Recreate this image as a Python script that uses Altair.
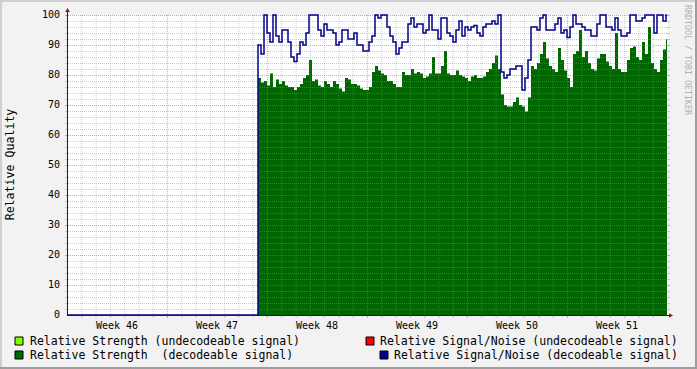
import altair as alt
import pandas as pd

# ---------------- data ----------------
FIRST_DAY = 13.37      # first sample, days after start of Week 46
STEP_DAYS = 0.21       # sample spacing in days

strength = [
    79, 77.5, 78, 76.5, 80.5, 76, 78.5, 77, 78, 76.5,
    76, 76, 75, 76, 77, 79, 80, 85, 78, 78.5,
    76.5, 76, 78, 77, 76, 78, 77, 75.5, 74.5, 79,
    78.5, 77, 77, 76.5, 75.5, 75, 75, 76, 81, 83,
    81.5, 80.5, 80, 78, 78, 77, 76, 76, 81, 80,
    80, 82, 80.5, 81, 80.5, 79, 79.5, 80.5, 86, 80.5,
    80.5, 83, 88, 80.5, 80, 80, 81.5, 80, 79.5, 79,
    78, 79.5, 80, 79, 79, 79.5, 81, 82, 84, 86.5,
    82, 73.5, 70, 69.5, 69.5, 71, 72.5, 70, 69.5, 67.8,
    72.5, 83, 82, 84, 87, 91, 85.5, 83, 82, 81,
    89, 85, 81.5, 79, 76, 87, 88, 95, 86, 88,
    84, 82, 81.5, 85.5, 87, 87, 84.5, 83, 82, 94,
    82, 81, 81, 85, 89, 89.5, 86, 85, 91, 87,
    96, 84, 82, 81, 85, 88.5, 92,
]

snr = [
    90, 87, 100, 94, 91, 100, 93, 91, 95, 95,
    91, 86, 84.5, 87, 91, 90, 94, 100, 100, 100,
    95, 93, 97, 95, 95, 94, 90, 91, 95, 95,
    92, 92, 94, 90, 90, 88, 88, 91, 93, 100,
    99, 100, 100, 96, 93, 91, 87, 89, 91, 91,
    97, 99, 96, 97, 97, 94, 95, 100, 95, 95,
    92, 99, 99, 94, 93, 91, 95, 98, 93, 96,
    95, 96, 96.5, 94, 93, 96, 97, 97, 98, 97,
    100, 81, 79, 80, 82, 82, 83, 83, 75, 79,
    85, 96, 96, 95, 99, 100, 95, 95, 95, 97,
    99, 94, 95, 92.5, 96, 100, 97, 97, 96, 95,
    95, 93, 93, 97, 100, 100, 96, 96, 95, 99,
    95, 93, 93, 94, 100, 100, 98, 98, 99, 100,
    100, 100, 94, 100, 100, 98, 100,
]

week_names = ["Week 46", "Week 47", "Week 48", "Week 49", "Week 50", "Week 51"]
y_ticks = list(range(0, 101, 10))
y_title = "Relative Quality"
legend_labels = [
    "Relative Strength (undecodeable signal)",
    "Relative Strength \u00a0(decodeable signal)",
    "Relative Signal/Noise (undecodeable signal)",
    "Relative Signal/Noise (decodeable signal)",
]
legend_colors = ["#80ff00", "#006600", "#ff0000", "#000090"]
watermark = "RRDTOOL / TOBI OETIKER"

TOTAL_DAYS = 7 * len(week_names)

n = len(strength)
days = [0.0] + [round(FIRST_DAY + i * STEP_DAYS, 4) for i in range(n)] + [float(TOTAL_DAYS)]
df = pd.DataFrame({
    "day": days,
    "strength": [0] + strength + [strength[-1]],
    "snr": [0] + snr + [snr[-1]],
})

minor_days = pd.DataFrame({"d": [d for d in range(1, TOTAL_DAYS) if d % 7]})
major_days = pd.DataFrame({"d": [d for d in range(7, TOTAL_DAYS, 7)]})
minor_vals = pd.DataFrame({"v": [v for v in range(2, 100, 2) if v % 10]})
major_vals = pd.DataFrame({"v": list(range(10, 101, 10))})
week_df = pd.DataFrame({"w": week_names, "c": [7 * i + 3.5 for i in range(len(week_names))]})
ytick_df = pd.DataFrame({"v": y_ticks})

FONT = "DejaVu Sans Mono"
W, H = 600, 300

xs = alt.Scale(domain=[0, TOTAL_DAYS], nice=False, zero=False)
ys = alt.Scale(domain=[0, 100], nice=False)

MINOR_C, MINOR_OP = "#8f8f8f", 0.45
MAJOR_C, MAJOR_OP = "#de4f4f", 0.55

area = alt.Chart(df).mark_area(interpolate="step-after", color="#006600").encode(
    x=alt.X("day:Q", scale=xs, axis=None),
    y=alt.Y("strength:Q", scale=ys, axis=None),
)

def vgrid(data, color, op):
    return alt.Chart(data).mark_rule(color=color, opacity=op, strokeDash=[1, 1],
                                     strokeWidth=1, xOffset=0.5).encode(
        x=alt.X("d:Q", scale=xs, axis=None))

def hgrid(data, color, op):
    return alt.Chart(data).mark_rule(color=color, opacity=op, strokeDash=[1, 1],
                                     strokeWidth=1, yOffset=0.5).encode(
        y=alt.Y("v:Q", scale=ys, axis=None))

def vstub(data, color, op):
    return alt.Chart(data).mark_rule(color=color, opacity=op, strokeWidth=1, xOffset=0.5).encode(
        x=alt.X("d:Q", scale=xs, axis=None), y=alt.value(300), y2=alt.value(303))

def hstub(data, color, op, x0, x1):
    return alt.Chart(data).mark_rule(color=color, opacity=op, strokeWidth=1, yOffset=0.5).encode(
        y=alt.Y("v:Q", scale=ys, axis=None), x=alt.value(x0), x2=alt.value(x1))

grids = [
    vgrid(minor_days, MINOR_C, MINOR_OP),
    hgrid(minor_vals, MINOR_C, MINOR_OP),
    vgrid(major_days, MAJOR_C, MAJOR_OP),
    hgrid(major_vals, MAJOR_C, MAJOR_OP),
    vstub(minor_days, MINOR_C, MINOR_OP),
    vstub(major_days, MAJOR_C, MAJOR_OP),
    hstub(minor_vals, MINOR_C, MINOR_OP, -2, 0),
    hstub(major_vals, MAJOR_C, MAJOR_OP, -2, 0),
    hstub(minor_vals, MINOR_C, MINOR_OP, 600, 603),
    hstub(major_vals, MAJOR_C, MAJOR_OP, 600, 603),
]

line = alt.Chart(df).mark_line(interpolate="step-after", color="#000088", strokeWidth=1.5).encode(
    x=alt.X("day:Q", scale=xs, axis=None),
    y=alt.Y("snr:Q", scale=ys, axis=None),
)

one = pd.DataFrame({"k": [0]})

axis_lines = [
    alt.Chart(one).mark_rule(color="#1f1f1f", strokeWidth=1).encode(
        x=alt.value(0.5), y=alt.value(-4), y2=alt.value(301)),
    alt.Chart(one).mark_rule(color="#1f1f1f", strokeWidth=1).encode(
        x=alt.value(0), x2=alt.value(604), y=alt.value(300.5)),
    alt.Chart(one).mark_point(shape="triangle-up", filled=True, color="#7f1f1f", size=22, opacity=1).encode(
        x=alt.value(0.5), y=alt.value(-5)),
    alt.Chart(one).mark_point(shape="triangle-right", filled=True, color="#7f1f1f", size=22, opacity=1).encode(
        x=alt.value(604), y=alt.value(300.5)),
]

# axis labels
x_labels = alt.Chart(week_df).mark_text(font=FONT, fontSize=10, color="black",
                                        align="center", baseline="middle").encode(
    x=alt.X("c:Q", scale=xs, axis=None), y=alt.value(310.5), text="w:N")
y_labels = alt.Chart(ytick_df).mark_text(font=FONT, fontSize=10, color="black",
                                         align="right", baseline="middle").encode(
    y=alt.Y("v:Q", scale=ys, axis=None), x=alt.value(-7), text="v:Q")
y_title_layer = alt.Chart(pd.DataFrame({"t": [y_title]})).mark_text(
    font=FONT, fontSize=11.6, color="black", align="center", baseline="middle", angle=270).encode(
    text="t:N", x=alt.value(-56.5), y=alt.value(149.5))

# legend
legend_layers = []
sq_pos = [(-52, 322), (-52, 336), (299, 322), (313, 336)]
txt_pos = [(-37, 326.5), (-37, 340.5), (313, 326.5), (327, 340.5)]
for lab, col, (sx, sy), (tx, ty) in zip(legend_labels, legend_colors, sq_pos, txt_pos):
    legend_layers.append(alt.Chart(one).mark_rect(fill=col, stroke="black", strokeWidth=1).encode(
        x=alt.value(sx), x2=alt.value(sx + 8), y=alt.value(sy), y2=alt.value(sy + 8)))
    legend_layers.append(alt.Chart(pd.DataFrame({"t": [lab]})).mark_text(
        font=FONT, fontSize=11.5, color="black", align="left", baseline="middle").encode(
        text="t:N", x=alt.value(tx), y=alt.value(ty)))

wm = alt.Chart(pd.DataFrame({"t": [watermark]})).mark_text(
    font=FONT, fontSize=8.3, color="#b0b0b0", align="left", baseline="middle", angle=90).encode(
    text="t:N", x=alt.value(620), y=alt.value(-10))

# outer frame shading
frame = [
    alt.Chart(one).mark_rect(fill="#cfcfcf").encode(
        x=alt.value(-67), x2=alt.value(630), y=alt.value(-15), y2=alt.value(-13)),
    alt.Chart(one).mark_rect(fill="#cfcfcf").encode(
        x=alt.value(-67), x2=alt.value(-65), y=alt.value(-15), y2=alt.value(354)),
    alt.Chart(one).mark_rect(fill="#9e9e9e").encode(
        x=alt.value(-67), x2=alt.value(630), y=alt.value(352), y2=alt.value(354)),
    alt.Chart(one).mark_rect(fill="#9e9e9e").encode(
        x=alt.value(628), x2=alt.value(630), y=alt.value(-15), y2=alt.value(354)),
]

chart = alt.layer(
    area, *grids, line, *axis_lines, x_labels, y_labels, y_title_layer,
    *legend_layers, wm, *frame
).properties(
    width=W, height=H,
    autosize=alt.AutoSizeParams(type="none"),
    padding={"left": 67, "top": 15, "right": 30, "bottom": 54},
    background="#f2f2f2",
).configure_view(fill="white", stroke="transparent")

chart.save("out.html", embed_options={"renderer": "svg", "actions": False})
